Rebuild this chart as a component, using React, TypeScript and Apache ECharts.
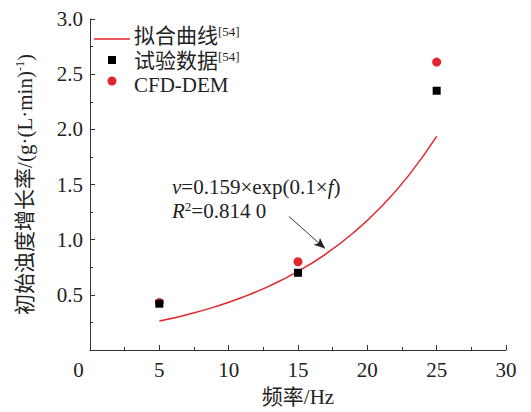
import React, { useEffect, useRef } from "react";
import * as echarts from "echarts";

const freq = [5, 15, 25];
const expData = [0.42, 0.7, 2.35];
const cfdData = [0.43, 0.8, 2.61];
const fitX = [5, 7, 9, 11, 13, 15, 17, 19, 21, 23, 25];
const fitY = [0.262, 0.32, 0.391, 0.478, 0.584, 0.713, 0.87, 1.063, 1.298, 1.585, 1.936];
const xTicks = [0, 5, 10, 15, 20, 25, 30];
const yTicks = [0, 0.5, 1.0, 1.5, 2.0, 2.5, 3.0];
const arrowFrom = [14.35, 1.21];
const arrowTo = [16.95, 0.92];

const FONT = "'Liberation Serif', 'Times New Roman', 'Noto Sans CJK SC', serif";
const RED = "#e3262b";
const AX = "#333";

export default function App() {
  const ref = useRef<HTMLDivElement>(null);
  useEffect(() => {
    const chart = echarts.init(ref.current!, null, { renderer: "svg" });
    const supStyle = { fontSize: 13, fontFamily: FONT, color: "#222", verticalAlign: "top", padding: [0, 0, 9, 0] };
    chart.setOption({
      animation: false,
      backgroundColor: "#fff",
      grid: { left: 90, right: 25, top: 19, bottom: 59, containLabel: false },
      xAxis: {
        type: "value",
        min: xTicks[0],
        max: xTicks[xTicks.length - 1],
        interval: 5,
        name: "频率/Hz",
        nameLocation: "middle",
        nameGap: 36,
        nameTextStyle: { fontSize: 21, fontFamily: FONT, color: "#222" },
        axisLine: { show: true, lineStyle: { color: AX, width: 1 } },
        axisTick: { show: true, inside: true, length: 5, lineStyle: { color: AX } },
        minorTick: { show: true, splitNumber: 2, length: 3, lineStyle: { color: AX } },
        splitLine: { show: false },
        axisLabel: {
          fontSize: 21,
          fontFamily: FONT,
          color: "#222",
          margin: 9,
          formatter: (v: number) => (v === 0 ? "{o|0}" : String(v)),
          rich: { o: { fontSize: 21, fontFamily: FONT, color: "#222", padding: [0, 23, 0, 0] } },
        },
      },
      yAxis: {
        type: "value",
        min: yTicks[0],
        max: yTicks[yTicks.length - 1],
        interval: 0.5,
        name: "初始浊度增长率/(g·(L·min){s|-1})",
        nameLocation: "middle",
        nameGap: 55,
        nameTextStyle: {
          fontSize: 21,
          fontFamily: FONT,
          color: "#222",
          rich: { s: { fontSize: 12, fontFamily: FONT, color: "#222", verticalAlign: "top", padding: [0, 0, 9, 0] } },
        },
        axisLine: { show: true, lineStyle: { color: AX, width: 1 } },
        axisTick: { show: true, inside: true, length: 5, lineStyle: { color: AX } },
        minorTick: { show: true, splitNumber: 2, length: 3, lineStyle: { color: AX } },
        splitLine: { show: false },
        axisLabel: {
          fontSize: 21,
          fontFamily: FONT,
          color: "#222",
          margin: 7,
          formatter: (v: number) => (v === 0 ? "" : v.toFixed(1)),
        },
      },
      series: [
        {
          name: "拟合曲线",
          type: "line",
          data: fitX.map((x, i) => [x, fitY[i]]),
          smooth: true,
          showSymbol: false,
          lineStyle: { color: RED, width: 1.5 },
          z: 2,
          markLine: {
            silent: true,
            symbol: ["none", "arrow"],
            symbolSize: [7, 11],
            label: { show: false },
            lineStyle: { color: "#222", width: 0.9, type: "solid" },
            data: [[{ coord: arrowFrom, symbol: "none" }, { coord: arrowTo, symbol: "arrow" }]],
          },
        },
        {
          name: "试验数据",
          type: "scatter",
          data: freq.map((x, i) => [x, expData[i]]),
          symbol: "rect",
          symbolSize: 8,
          itemStyle: { color: "#000", opacity: 1 },
          z: 4,
        },
        {
          name: "CFD-DEM",
          type: "scatter",
          data: freq.map((x, i) => [x, cfdData[i]]),
          symbol: "circle",
          symbolSize: 9,
          itemStyle: { color: RED, opacity: 1 },
          z: 3,
        },
      ],
      graphic: [
        { type: "line", shape: { x1: 94, y1: 39, x2: 130, y2: 39 }, style: { stroke: RED, lineWidth: 1.5 } },
        {
          type: "text",
          x: 134,
          y: 36,
          style: {
            text: "拟合曲线{s|[54]}",
            font: `21px ${FONT}`,
            fill: "#222",
            verticalAlign: "middle",
            rich: { s: supStyle },
          },
        },
        { type: "rect", shape: { x: 108, y: 56, width: 8, height: 8 }, style: { fill: "#000" } },
        {
          type: "text",
          x: 134,
          y: 61,
          style: {
            text: "试验数据{s|[54]}",
            font: `21px ${FONT}`,
            fill: "#222",
            verticalAlign: "middle",
            rich: { s: supStyle },
          },
        },
        { type: "circle", shape: { cx: 112, cy: 81, r: 4.5 }, style: { fill: RED } },
        {
          type: "text",
          x: 134,
          y: 85,
          style: { text: "CFD-DEM", font: `21px ${FONT}`, fill: "#222", verticalAlign: "middle" },
        },
        {
          type: "text",
          x: 172,
          y: 187,
          style: {
            text: "{i|v}=0.159×exp(0.1×{i|f})",
            font: `21px ${FONT}`,
            fill: "#222",
            verticalAlign: "middle",
            rich: { i: { fontStyle: "italic", fontSize: 21, fontFamily: FONT, color: "#222" } },
          },
        },
        {
          type: "text",
          x: 172,
          y: 211,
          style: {
            text: "{i|R}{s|2}=0.814 0",
            font: `21px ${FONT}`,
            fill: "#222",
            verticalAlign: "middle",
            rich: {
              i: { fontStyle: "italic", fontSize: 21, fontFamily: FONT, color: "#222" },
              s: { fontSize: 13, fontFamily: FONT, color: "#222", verticalAlign: "top", padding: [0, 0, 9, 0] },
            },
          },
        },
      ],
    });
    return () => chart.dispose();
  }, []);
  return <div ref={ref} style={{ width: 531, height: 412, position: "absolute", left: 0, top: 0 }} />;
}
